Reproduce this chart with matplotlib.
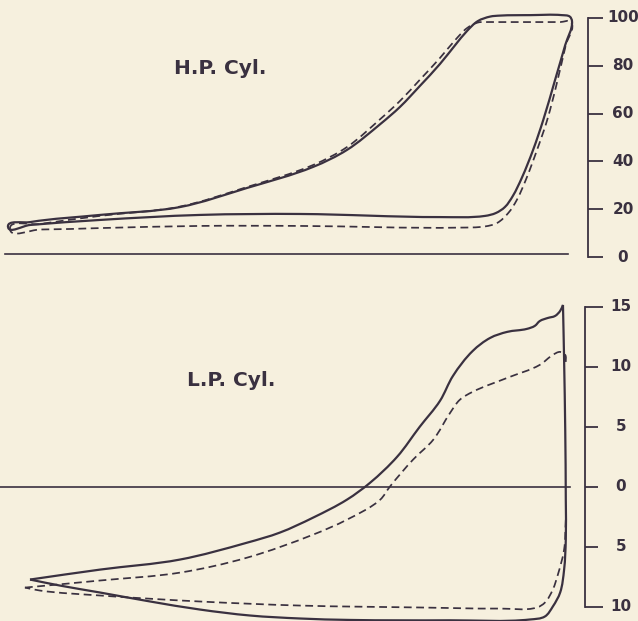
import numpy as np
import matplotlib
matplotlib.use("Agg")
import matplotlib.pyplot as plt
from matplotlib.path import Path
from matplotlib.patches import PathPatch

# ---------------- data (stroke %, pressure) ----------------
# H.P. cylinder, full line (closed loop), lb per sq in
hp_full_x = [0.0, 3.9, 16.3, 30.5, 42.4, 54.1, 60.1, 66.0, 69.5, 73.0, 76.6, 79.3, 81.4, 83.3,
             85.5, 87.2, 92.6, 98.2, 99.6, 100.0, 98.8, 97.0, 94.9, 93.1, 91.1, 89.5, 88.1,
             86.5, 84.6, 76.6, 51.8, 34.0, 16.3, 3.9, 0.0]
hp_full_p = [12.55, 14.6, 17.6, 20.9, 28.9, 37.7, 44.8, 55.6, 62.8, 71.5, 80.8, 88.7, 94.6, 98.7,
             100.6, 101.0, 101.2, 101.2, 100.6, 98.7, 88.7, 74.1, 57.3, 44.8, 33.1, 25.5, 20.9,
             18.4, 17.2, 16.7, 18.0, 17.6, 15.5, 13.4, 12.55]
# H.P. cylinder, dashed line (closed loop)
hp_dash_x = [0.35, 5.7, 16.3, 30.5, 42.4, 54.1, 60.1, 66.0, 69.5, 73.0, 76.6, 79.3, 81.4, 83.3,
             84.8, 86.5, 97.9, 99.8, 98.9, 95.6, 93.8, 91.8, 90.2, 88.7, 86.7, 84.6, 80.1, 51.8,
             34.0, 16.3, 5.7, 0.35]
hp_dash_p = [11.7, 13.8, 17.2, 21.1, 29.3, 38.5, 46.0, 57.7, 65.3, 74.1, 83.3, 90.8, 95.8, 98.1,
             98.3, 98.3, 98.3, 98.3, 88.7, 57.3, 44.8, 32.2, 23.8, 18.4, 14.2, 12.8, 12.3, 13.0,
             13.0, 12.1, 11.5, 11.7]

# L.P. cylinder, full line: steam/expansion line (tip -> peak)
lp_full_up_x = [3.9, 16.3, 30.5, 42.4, 48.2, 54.1, 60.1, 64.2, 69.0, 73.0, 76.6, 78.9, 82.4,
                85.5, 88.5, 92.0, 93.4, 94.3, 95.7, 97.0, 97.9, 98.4]
lp_full_up_p = [-7.75, -6.92, -6.08, -4.67, -3.83, -2.58, -1.08, 0.33, 2.5, 5.0, 7.17, 9.25, 11.33,
                12.42, 12.92, 13.17, 13.42, 13.83, 14.08, 14.25, 14.67, 15.17]
# L.P. cylinder, full line: release + exhaust line (peak -> tip)
lp_full_dn_x = [98.4, 98.6, 98.8, 98.9, 98.9, 98.6, 97.9, 96.6, 95.2, 92.6, 78.4, 60.6, 51.8,
                42.9, 34.0, 25.2, 16.3, 9.2, 3.9]
lp_full_dn_p = [15.17, 10.58, 4.75, -1.08, -4.42, -6.92, -8.83, -10.0, -10.83, -11.08, -11.15,
                -11.12, -11.0, -10.75, -10.25, -9.58, -8.83, -8.25, -7.75]
# L.P. cylinder, dashed line: upper part
lp_dash_up_x = [3.0, 16.3, 30.5, 42.4, 54.1, 60.1, 66.0, 67.7, 71.8, 75.4, 78.4, 80.1, 82.4,
                88.5, 94.3, 96.6, 97.9, 98.8, 98.9]
lp_dash_up_p = [-8.42, -7.83, -7.17, -5.92, -4.0, -2.75, -1.08, 0.0, 2.25, 3.92, 6.17, 7.25, 7.92,
                9.08, 10.17, 11.0, 11.25, 11.0, 10.4]
# L.P. cylinder, dashed line: lower part
lp_dash_dn_x = [98.9, 98.6, 97.5, 96.6, 95.2, 93.8, 87.2, 73.0, 51.8, 34.0, 16.3, 5.7, 3.0]
lp_dash_dn_p = [-2.75, -5.25, -7.33, -8.58, -9.67, -10.08, -10.17, -10.08, -9.92, -9.58, -9.08,
                -8.67, -8.42]

hp_ticks = [0, 20, 40, 60, 80, 100]
hp_tick_labels = ["0", "20", "40", "60", "80", "100"]
lp_ticks = [-10, -5, 0, 5, 10, 15]
lp_tick_labels = ["10", "5", "0", "5", "10", "15"]
hp_atm = 1.2
lp_atm = 0.0

# ---------------- style ----------------
BG = "#f6f0de"
INK = "#3a3140"
W, H = 638, 621
X0, XS = 8.0, 5.64  # pixel of stroke 0, pixels per stroke %
HP_YS = 2.39        # pixels per lb (H.P.)
LP_YS = 12.0        # pixels per lb (L.P.)


def spline_path(xs, ys, sx, sy, closed=False):
    """Smooth cubic Bezier through the points; tangents from chord directions."""
    pts = np.column_stack([np.asarray(xs, float) * sx, np.asarray(ys, float) * sy])
    n = len(pts)
    tang = np.zeros_like(pts)
    for i in range(n):
        if closed:
            prv = pts[i - 1] if i > 0 else pts[-2]
            nxt = pts[i + 1] if i < n - 1 else pts[1]
        else:
            prv = pts[i - 1] if i > 0 else pts[i]
            nxt = pts[i + 1] if i < n - 1 else pts[i]
        a = pts[i] - prv
        b = nxt - pts[i]
        la, lb = np.linalg.norm(a), np.linalg.norm(b)
        t = np.zeros(2)
        if la > 0:
            t += a / la
        if lb > 0:
            t += b / lb
        nt = np.linalg.norm(t)
        tang[i] = t / nt if nt > 0 else t
    verts = [pts[0]]
    codes = [Path.MOVETO]
    for i in range(n - 1):
        d = np.linalg.norm(pts[i + 1] - pts[i])
        c1 = pts[i] + tang[i] * d / 3.0
        c2 = pts[i + 1] - tang[i + 1] * d / 3.0
        verts += [c1, c2, pts[i + 1]]
        codes += [Path.CURVE4] * 3
    verts = np.array(verts)
    verts[:, 0] /= sx
    verts[:, 1] /= sy
    return Path(verts, codes)


def draw(ax, xs, ys, sy, dashed=False, closed=False, lw=1.6):
    ls = (0, (4.5, 2.6)) if dashed else "-"
    ax.add_patch(PathPatch(spline_path(xs, ys, XS, sy, closed), fill=False, ec=INK,
                           lw=(1.25 if dashed else lw), ls=ls, capstyle="butt",
                           joinstyle="round"))


fig = plt.figure(figsize=(W / 100, H / 100), dpi=100, facecolor=BG)
xlim = (-X0 / XS, (W - X0) / XS)

# top axes: pixel rows 0..285
ax1 = fig.add_axes([0, 1 - 285 / H, 1, 285 / H])
ax1.set_xlim(*xlim)
ax1.set_ylim((257 - 285) / HP_YS, 257 / HP_YS)
# bottom axes: pixel rows 285..621
ax2 = fig.add_axes([0, 0, 1, 336 / H])
ax2.set_xlim(*xlim)
ax2.set_ylim((487 - 621.5) / LP_YS, (487 - 285) / LP_YS)
for ax in (ax1, ax2):
    ax.set_facecolor(BG)
    ax.axis("off")


def px(x):
    return (x - X0) / XS

# H.P.
draw(ax1, hp_full_x, hp_full_p, HP_YS, closed=True)
draw(ax1, hp_dash_x, hp_dash_p, HP_YS, dashed=True, closed=True)
ax1.plot([px(5), px(568)], [hp_atm, hp_atm], color=INK, lw=1.2)
ax1.plot([px(588), px(588)], [hp_ticks[0], hp_ticks[-1]], color=INK, lw=1.3)
for t, lab in zip(hp_ticks, hp_tick_labels):
    ax1.plot([px(588), px(603)], [t, t], color=INK, lw=1.3, solid_capstyle="butt")
    ax1.text(px(623), t, lab, ha="center", va="center", fontsize=11,
             fontweight="bold", color=INK, family="DejaVu Sans")
ax1.text(px(220), (257 - 69) / HP_YS, "H.P. Cyl.", ha="center", va="center",
         fontsize=14.5, fontweight="bold", color=INK, family="DejaVu Sans")

# L.P.
draw(ax2, lp_full_up_x, lp_full_up_p, LP_YS)
draw(ax2, lp_full_dn_x, lp_full_dn_p, LP_YS)
draw(ax2, lp_dash_up_x, lp_dash_up_p, LP_YS, dashed=True)
draw(ax2, lp_dash_dn_x, lp_dash_dn_p, LP_YS, dashed=True)
ax2.plot([px(0), px(570)], [lp_atm, lp_atm], color=INK, lw=1.2)
ax2.plot([px(585), px(585)], [lp_ticks[0], lp_ticks[-1]], color=INK, lw=1.3)
for t, lab in zip(lp_ticks, lp_tick_labels):
    x_end = 603 if t in (lp_ticks[0], lp_ticks[-1]) else 598
    ax2.plot([px(585), px(x_end)], [t, t], color=INK, lw=1.3, solid_capstyle="butt")
    ax2.text(px(621), t, lab, ha="center", va="center", fontsize=11,
             fontweight="bold", color=INK, family="DejaVu Sans")
ax2.text(px(231), (487 - 381) / LP_YS, "L.P. Cyl.", ha="center", va="center",
         fontsize=14.5, fontweight="bold", color=INK, family="DejaVu Sans")

fig.savefig("out.png", dpi=100, facecolor=BG)
